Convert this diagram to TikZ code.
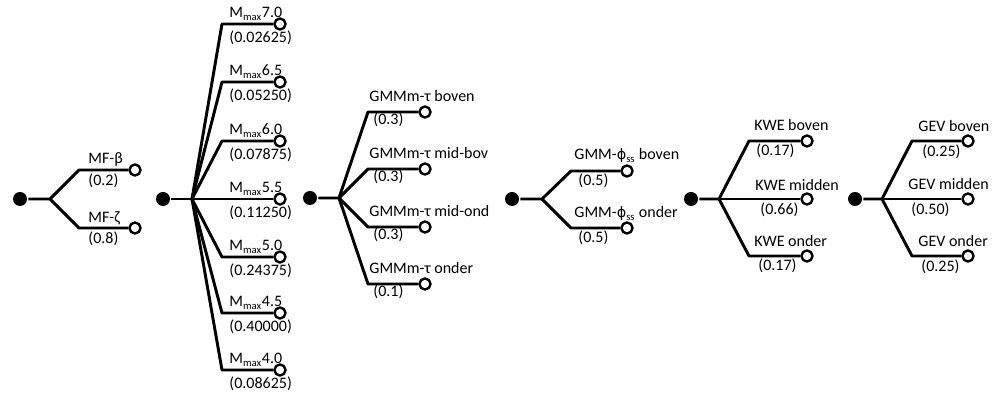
\documentclass[tikz,border=0pt]{standalone}
\usepackage{fontspec}
\setmainfont{Carlito}
\newfontfamily\phifont[Scale=0.9]{DejaVu Sans}
\usetikzlibrary{shapes}

\begin{document}
\begin{tikzpicture}[x=0.75pt,y=-0.75pt,line width=2.2pt,line join=round,
    dotroot/.style={circle,fill=black,inner sep=0pt,minimum size=10.5pt},
    leafring/.style={circle,draw=black,fill=white,line width=1.8pt,inner sep=0pt,minimum size=8.3pt},
    lbl/.style={anchor=base west,inner sep=0pt,font=\fontsize{12}{14}\selectfont}]
\useasboundingbox (0,0) rectangle (997,398);

% MF
\node[dotroot] (r1) at (20,199) {};
\coordinate (s1) at (50,199);
\coordinate (b1a) at (79,170);
\coordinate (b1b) at (79,228);
\node[leafring] (l1a) at (135,170) {};
\node[leafring] (l1b) at (135,228) {};
\draw (r1) -- (s1) -- (b1a) -- (l1a);
\draw (s1) -- (b1b) -- (l1b);
\node[lbl] (t1a) at (87,164) {MF-β};
\node[lbl] (p1a) at (87,186) {(0.2)};
\node[lbl] (t1b) at (87,223) {MF-ζ};
\node[lbl] (p1b) at (87,244) {(0.8)};

% Mmax
\node[dotroot] (r2) at (163,199) {};
\coordinate (s2) at (192,199);
\draw (r2) -- (s2);
\foreach \y/\m/\p [count=\k] in {24/7.0/0.02625, 82/6.5/0.05250, 141/6.0/0.07875,
    199/5.5/0.11250, 257/5.0/0.24375, 313/4.5/0.40000, 370/4.0/0.08625} {
  \coordinate (b2-\k) at (222,\y);
  \node[leafring] (l2-\k) at (280,\y) {};
  \draw (s2) -- (b2-\k) -- (l2-\k);
  \node[lbl] (t2-\k) at (228,\y-6) {M\textsubscript{max}\m};
  \node[lbl] (p2-\k) at (228,\y+19) {(\p)};
}

% GMMm-tau
\node[dotroot] (r3) at (310,198) {};
\coordinate (s3) at (339,198);
\coordinate (b3a) at (368,112);
\coordinate (b3b) at (368,169);
\coordinate (b3c) at (368,227);
\coordinate (b3d) at (368,284);
\node[leafring] (l3a) at (425,112) {};
\node[leafring] (l3b) at (425,169) {};
\node[leafring] (l3c) at (425,227) {};
\node[leafring] (l3d) at (425,284) {};
\draw (r3) -- (s3) -- (b3a) -- (l3a);
\draw (s3) -- (b3b) -- (l3b);
\draw (s3) -- (b3c) -- (l3c);
\draw (s3) -- (b3d) -- (l3d);
\node[lbl] (t3a) at (368,102) {GMMm-τ boven};
\node[lbl] (p3a) at (372,125) {(0.3)};
\node[lbl] (t3b) at (368,159) {GMMm-τ mid-bov};
\node[lbl] (p3b) at (372,182) {(0.3)};
\node[lbl] (t3c) at (368,217) {GMMm-τ mid-ond};
\node[lbl] (p3c) at (372,240) {(0.3)};
\node[lbl] (t3d) at (368,274) {GMMm-τ onder};
\node[lbl] (p3d) at (372,297) {(0.1)};

% GMM-phi_ss
\node[dotroot] (r4) at (512,199) {};
\coordinate (s4) at (542,199);
\coordinate (b4a) at (571,171);
\coordinate (b4b) at (571,228);
\node[leafring] (l4a) at (627,171) {};
\node[leafring] (l4b) at (627,228) {};
\draw (r4) -- (s4) -- (b4a) -- (l4a);
\draw (s4) -- (b4b) -- (l4b);
\node[lbl] (t4a) at (573,160) {GMM-{\phifont ϕ}\textsubscript{ss} boven};
\node[lbl] (p4a) at (577,186) {(0.5)};
\node[lbl] (t4b) at (573,218) {GMM-{\phifont ϕ}\textsubscript{ss} onder};
\node[lbl] (p4b) at (577,243) {(0.5)};

% KWE
\node[dotroot] (r5) at (691,199) {};
\coordinate (s5) at (719,199);
\coordinate (b5a) at (749,141);
\coordinate (b5c) at (749,256);
\node[leafring] (l5a) at (807,141) {};
\node[leafring] (l5b) at (807,199) {};
\node[leafring] (l5c) at (807,256) {};
\draw (r5) -- (s5) -- (b5a) -- (l5a);
\draw (s5) -- (l5b);
\draw (s5) -- (b5c) -- (l5c);
\node[lbl] (t5a) at (753,131) {KWE boven};
\node[lbl] (p5a) at (755,156) {(0.17)};
\node[lbl] (t5b) at (754,191) {KWE midden};
\node[lbl] (p5b) at (759,215) {(0.66)};
\node[lbl] (t5c) at (753,247) {KWE onder};
\node[lbl] (p5c) at (757,271) {(0.17)};

% GEV
\node[dotroot] (r6) at (855,199) {};
\coordinate (s6) at (882,199);
\coordinate (b6a) at (912,141);
\coordinate (b6c) at (912,256);
\node[leafring] (l6a) at (968,141) {};
\node[leafring] (l6b) at (968,199) {};
\node[leafring] (l6c) at (968,256) {};
\draw (r6) -- (s6) -- (b6a) -- (l6a);
\draw (s6) -- (l6b);
\draw (s6) -- (b6c) -- (l6c);
\node[lbl] (t6a) at (917,132) {GEV boven};
\node[lbl] (p6a) at (921,157) {(0.25)};
\node[lbl] (t6b) at (907,190) {GEV midden};
\node[lbl] (p6b) at (910,215) {(0.50)};
\node[lbl] (t6c) at (917,247) {GEV onder};
\node[lbl] (p6c) at (920,272) {(0.25)};
\end{tikzpicture}
\end{document}
